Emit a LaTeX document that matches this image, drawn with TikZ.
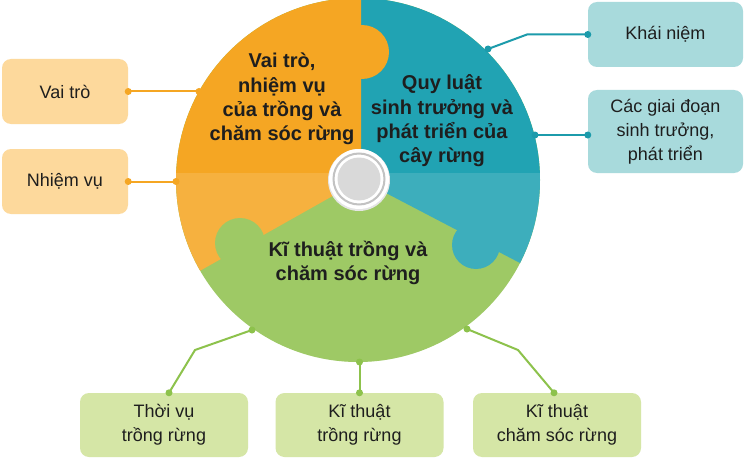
\documentclass[tikz,border=0pt]{standalone}
\usepackage{fontspec}
\setmainfont{Liberation Sans}
\usetikzlibrary{calc}
\definecolor{cor}{HTML}{F5A623}
\definecolor{cte}{HTML}{21A3B3}
\definecolor{cgr}{HTML}{90C14F}
\definecolor{bor}{HTML}{FDD99C}
\definecolor{bte}{HTML}{A8DADC}
\definecolor{bgr}{HTML}{D5E6A6}
\definecolor{lor}{HTML}{F5A623}
\definecolor{lte}{HTML}{1C9BAB}
\definecolor{lgr}{HTML}{8DC24C}
\definecolor{txt}{HTML}{1E1E1E}
\begin{document}
\begin{tikzpicture}[x=1pt,y=-1pt,
  box/.style={rounded corners=9pt, inner sep=0pt, align=center,
    font=\fontsize{18}{24}\selectfont, text=txt},
  bigtxt/.style={align=center, font=\bfseries\fontsize{20}{24.3}\selectfont,
    text=txt, inner sep=0pt},
  conn/.style={line width=2pt}]
\useasboundingbox (0,0) rectangle (745,460);
\fill[white] (0,0) rectangle (745,460);
% puzzle circle
\begin{scope}
  \clip (358,180) circle (182pt);
  \fill[cgr] (150,-10) rectangle (570,380);
  \fill[cte] (361,180) -- (361,-10) -- (565,-10) -- (565,286.5) -- cycle;
  \fill[cor] (361,180) -- (150,299) -- (150,-10) -- (361,-10) -- cycle;
  \fill[cor] (362,52) circle (27pt);
  \fill[cgr] (240,243) circle (25pt);
  \fill[cte] (476,245) circle (24pt);
  \fill[white, opacity=0.13] (150,173) rectangle (570,380);
\end{scope}
% centre ornament
\fill[black!10] (359,180) circle (31pt);
\fill[white] (359,179) circle (30pt);
\draw[black!24, line width=2pt] (359,179) circle (25.5pt);
\fill[black!15] (359,179) circle (21.5pt);
% texts in circle
\node[bigtxt] (t1) at (282,99) {Vai trò,\\nhiệm vụ\\của trồng và\\chăm sóc rừng};
\node[bigtxt] (t2) at (442,121) {Quy luật\\sinh trưởng và\\phát triển của\\cây rừng};
\node[bigtxt] (t3) at (348,263) {Kĩ thuật trồng và\\chăm sóc rừng};
% boxes
\node[box, fill=bor, minimum width=126pt, minimum height=65pt] (vt) at (65,91.5) {Vai trò};
\node[box, fill=bor, minimum width=126pt, minimum height=65pt] (nv) at (65,181.5) {Nhiệm vụ};
\node[box, fill=bte, minimum width=155pt, minimum height=65pt] (kn) at (665.5,34.5) {Khái niệm};
\node[box, fill=bte, minimum width=155pt, minimum height=83pt] (cg) at (665.5,131.5) {Các giai đoạn\\sinh trưởng,\\phát triển};
\node[box, fill=bgr, minimum width=168pt, minimum height=64pt] (b1) at (164,425) {Thời vụ\\trồng rừng};
\node[box, fill=bgr, minimum width=168pt, minimum height=64pt] (b2) at (359.5,425) {Kĩ thuật\\trồng rừng};
\node[box, fill=bgr, minimum width=168pt, minimum height=64pt] (b3) at (557,425) {Kĩ thuật\\chăm sóc rừng};
% connector points
\coordinate (e1) at (199,91.5);
\coordinate (e2) at (176,181.5);
\coordinate (k1) at (527,34.5);
\coordinate (k2) at (488,49);
\coordinate (s0) at ($(cg.west)+(0,3.5)$);
\coordinate (s1) at (535,135);
\coordinate (g0) at ($(b1.north)+(5,0)$);
\coordinate (g1) at (195,350);
\coordinate (g2) at (252,330);
\coordinate (h1) at (359.5,362);
\coordinate (j0) at ($(b3.north)+(-3,0)$);
\coordinate (j1) at (518,350);
\coordinate (j2) at (467,329);
% connectors
\draw[conn, lor] (vt.east) -- (e1);
\draw[conn, lor] (nv.east) -- (e2);
\foreach \p in {vt.east, e1, nv.east, e2} \fill[lor] (\p) circle (3.5pt);
\draw[conn, lte] (kn.west) -- (k1) -- (k2);
\draw[conn, lte] (s0) -- (s1);
\foreach \p in {kn.west, k2, s0, s1} \fill[lte] (\p) circle (3.5pt);
\draw[conn, lgr] (g0) -- (g1) -- (g2);
\draw[conn, lgr] (b2.north) -- (h1);
\draw[conn, lgr] (j0) -- (j1) -- (j2);
\foreach \p in {g0, g2, b2.north, h1, j0, j2} \fill[lgr] (\p) circle (3.5pt);
\end{tikzpicture}
\end{document}
